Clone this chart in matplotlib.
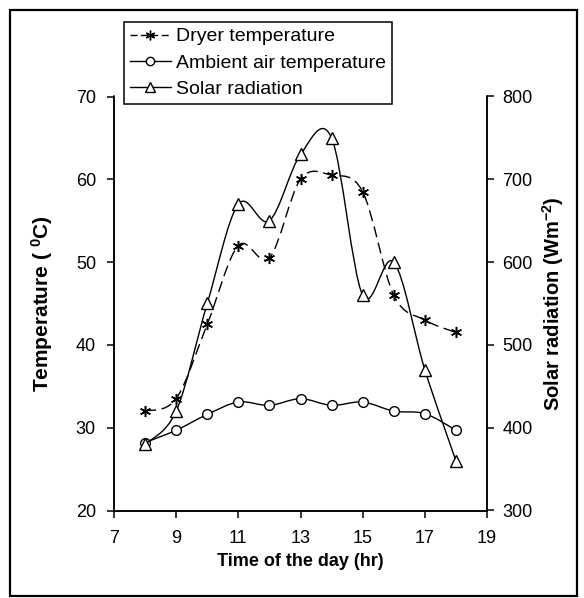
import numpy as np
import matplotlib
matplotlib.use('Agg')
import matplotlib.pyplot as plt
from matplotlib.path import Path
from matplotlib.patches import PathPatch, Rectangle
from matplotlib.lines import Line2D

hours = [8, 9, 10, 11, 12, 13, 14, 15, 16, 17, 18]
dryer_temp = [32, 33.5, 42.5, 52, 50.5, 60, 60.5, 58.5, 46, 43, 41.5]
ambient_temp = [28.2, 29.7, 31.6, 33.1, 32.7, 33.5, 32.7, 33.1, 32, 31.7, 29.7]
solar_rad = [380, 420, 550, 670, 650, 730, 750, 560, 600, 470, 360]

plt.rcParams['font.family'] = ['Liberation Sans', 'DejaVu Sans']
plt.rcParams['mathtext.fontset'] = 'custom'
plt.rcParams['mathtext.rm'] = 'Liberation Sans'
plt.rcParams['mathtext.bf'] = 'Liberation Sans:bold'

W, H = 584, 598


def smooth_path(x, y):
    # Excel-style smoothed line: cubic Bezier through the points
    pts = np.column_stack([x, y]).astype(float)
    n = len(pts)
    verts = [pts[0]]
    codes = [Path.MOVETO]
    for i in range(n - 1):
        p0 = pts[i - 1] if i > 0 else pts[i]
        p1, p2 = pts[i], pts[i + 1]
        p3 = pts[i + 2] if i + 2 < n else pts[i + 1]
        c1 = p1 + (p2 - p0) / 6.0
        c2 = p2 - (p3 - p1) / 6.0
        verts += [c1, c2, p2]
        codes += [Path.CURVE4] * 3
    return Path(verts, codes)


def main():
    fig = plt.figure(figsize=(W / 100, H / 100), dpi=100)
    # axes box in pixels: x 114..487, y 96.5..510.5
    ax = fig.add_axes([114 / W, 1 - 510.5 / H, 373 / W, 414 / H])
    ax2 = ax.twinx()

    star = (6, 2, 0)

    ax.add_patch(PathPatch(smooth_path(hours, dryer_temp), fill=False,
                           ec='black', lw=1.0, ls=(0, (8, 4))))
    ax.plot(hours, dryer_temp, ls='none', marker=star, ms=8, mec='black',
            mew=1.1, color='black')

    ax.add_patch(PathPatch(smooth_path(hours, ambient_temp), fill=False,
                           ec='black', lw=1.0))
    ax.plot(hours, ambient_temp, ls='none', marker='o', ms=7, mfc='white',
            mec='black', mew=1.0)

    ax2.add_patch(PathPatch(smooth_path(hours, solar_rad), fill=False,
                            ec='black', lw=1.0))
    ax2.plot(hours, solar_rad, ls='none', marker='^', ms=8.5, mfc='white',
             mec='black', mew=1.0)

    ax.set_xlim(7, 19)
    ax.set_ylim(20, 70)
    ax2.set_ylim(300, 800)
    ax.set_xticks(range(7, 20, 2))
    ax.set_yticks(range(20, 71, 10))
    ax2.set_yticks(range(300, 801, 100))

    for a in (ax, ax2):
        a.spines['top'].set_visible(False)
        for s in a.spines.values():
            s.set_linewidth(1.1)
        a.tick_params(direction='out', length=5, width=1.1, labelsize=13,
                      colors='black')
    ax.tick_params(axis='y', pad=8)
    ax.tick_params(axis='x', pad=9)
    ax2.tick_params(axis='y', pad=6)

    ax.set_xlabel('Time of the day (hr)', fontsize=13, fontweight='bold')
    ax.xaxis.label.set_va('center')
    ax.xaxis.set_label_coords(0.5, (510.5 - 562) / 414)

    ax.set_ylabel(r'Temperature ( $\mathbf{^0}$C)', fontsize=15,
                  fontweight='bold')
    ax.yaxis.label.set_va('center')
    ax.yaxis.set_label_coords((42 - 114) / 373, 0.5)

    ax2.set_ylabel(r'Solar radiation (Wm$\mathbf{^{-2}}$)', fontsize=14.5,
                   fontweight='bold', rotation=90)
    ax2.yaxis.label.set_va('center')
    ax2.yaxis.set_label_coords((553 - 114) / 373, 0.5)

    handles = [
        Line2D([], [], color='black', lw=1.0, ls=(0, (5, 2.5)), marker=star,
               ms=7, mew=1.0),
        Line2D([], [], color='black', lw=1.0, marker='o', ms=6,
               mfc='white'),
        Line2D([], [], color='black', lw=1.0, marker='^', ms=7,
               mfc='white'),
    ]
    labels = ['Dryer temperature', 'Ambient air temperature', 'Solar radiation']
    leg = fig.legend(handles, labels, loc='upper left',
                     bbox_to_anchor=(124 / W, 1 - 22 / H), fontsize=14,
                     frameon=True, fancybox=False, edgecolor='black',
                     framealpha=1, borderpad=0.3, labelspacing=0.45,
                     handlelength=2.1, handletextpad=0.3, borderaxespad=0)
    leg.get_frame().set_linewidth(1.1)

    fig.patches.append(Rectangle((9.5 / W, 1 - 596 / H), 567 / W, 586.5 / H,
                                 transform=fig.transFigure, fill=False,
                                 ec='black', lw=1.6))

    fig.savefig('out.png', dpi=100)


if __name__ == "__main__":
    main()
